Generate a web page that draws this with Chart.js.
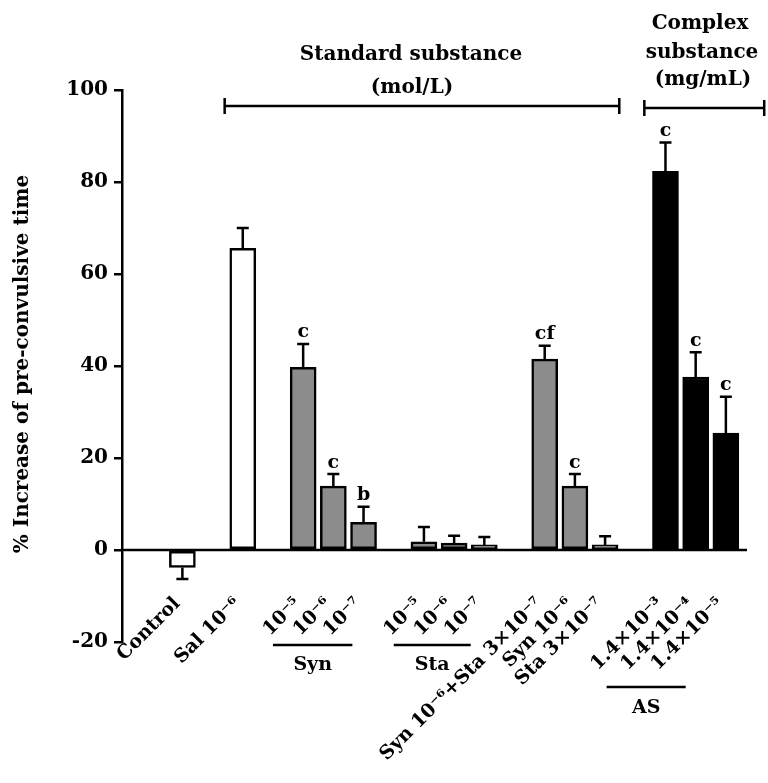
<!DOCTYPE html>
<html>
<head>
<meta charset="utf-8">
<script src="https://cdn.jsdelivr.net/npm/chart.js@4/dist/chart.umd.min.js"></script>
<style>
  html, body { margin: 0; padding: 0; background: #fff; }
  #c { display: block; }
</style>
</head>
<body>
<canvas id="c" width="768" height="783"></canvas>
<script>
// ---- Data ----
const categories = ['Control', 'Sal 10⁻⁶', '10⁻⁵', '10⁻⁶', '10⁻⁷', '10⁻⁵', '10⁻⁶', '10⁻⁷',
  'Syn 10⁻⁶+Sta 3×10⁻⁷', 'Syn 10⁻⁶', 'Sta 3×10⁻⁷', '1.4×10⁻³', '1.4×10⁻⁴', '1.4×10⁻⁵'];
const groups = ['Control', 'Sal', 'Syn', 'Syn', 'Syn', 'Sta', 'Sta', 'Sta', 'Mix', 'Mix', 'Mix', 'AS', 'AS', 'AS'];
const means = [-3.8, 65.6, 39.7, 13.9, 6.0, 1.8, 1.5, 1.1, 41.5, 13.9, 1.1, 82.3, 37.6, 25.4];
const sems  = [2.5, 4.4, 5.1, 2.6, 3.4, 3.2, 1.6, 1.7, 2.9, 2.6, 1.9, 6.3, 5.4, 7.9];
const letters = ['', '', 'c', 'c', 'b', '', '', '', 'cf', 'c', '', 'c', 'c', 'c'];
const yTicks = [-20, 0, 20, 40, 60, 80, 100];
const yTitle = '% Increase of pre-convulsive time';
const groupLabels = { Syn: 'Syn', Sta: 'Sta', AS: 'AS' };
const headerStd = ['Standard substance', '(mol/L)'];
const headerCpx = ['Complex', 'substance', '(mg/mL)'];

// colours per group
const groupFill = { Control: '#ffffff', Sal: '#ffffff', Syn: '#8c8c8c', Sta: '#8c8c8c', Mix: '#8c8c8c', AS: '#000000' };

// slot position: index plus one empty slot between groups
const slots = [];
let gapCount = 0;
groups.forEach((g, i) => {
  if (i > 0 && g !== groups[i - 1]) gapCount++;
  slots.push(i + gapCount);
});

const FONT = '"DejaVu Serif", serif';

const annotate = {
  id: 'annotate',
  afterDatasetsDraw(chart) {
    const ctx = chart.ctx;
    const xs = chart.scales.x, ys = chart.scales.y;
    const meta = chart.getDatasetMeta(0);
    ctx.save();
    // zero line
    ctx.strokeStyle = '#000';
    ctx.lineWidth = 2.5;
    ctx.beginPath();
    ctx.moveTo(chart.chartArea.left, ys.getPixelForValue(0));
    ctx.lineTo(chart.chartArea.right, ys.getPixelForValue(0));
    ctx.stroke();

    // error bars + letters
    meta.data.forEach((bar, i) => {
      const m = means[i], e = sems[i];
      const end = m >= 0 ? m + e : m - e;
      const y0 = ys.getPixelForValue(m);
      const y1 = ys.getPixelForValue(end);
      ctx.lineWidth = 2.5;
      ctx.beginPath();
      ctx.moveTo(bar.x, y0);
      ctx.lineTo(bar.x, y1);
      ctx.moveTo(bar.x - 6, y1);
      ctx.lineTo(bar.x + 6, y1);
      ctx.stroke();
      if (letters[i]) {
        ctx.font = 'bold 19px ' + FONT;
        ctx.fillStyle = '#000';
        ctx.textAlign = 'center';
        ctx.textBaseline = 'bottom';
        ctx.fillText(letters[i], bar.x, y1 - 2);
      }
    });

    // rotated category labels
    ctx.font = 'bold 19px ' + FONT;
    ctx.fillStyle = '#000';
    categories.forEach((lab, i) => {
      const cx = xs.getPixelForValue(slots[i]);
      ctx.save();
      ctx.translate(cx - 5, 601);
      ctx.rotate(-Math.PI / 4);
      ctx.textAlign = 'right';
      ctx.textBaseline = 'middle';
      ctx.fillText(lab, 0, 0);
      ctx.restore();
    });

    // group underlines and names
    const groupLine = (g, offL, offR, y, ty) => {
      const idx = groups.map((gg, i) => gg === g ? i : -1).filter(i => i >= 0);
      const xl = xs.getPixelForValue(slots[idx[0]] + offL);
      const xr = xs.getPixelForValue(slots[idx[idx.length - 1]] + offR);
      ctx.lineWidth = 2.5;
      ctx.beginPath();
      ctx.moveTo(xl, y);
      ctx.lineTo(xr, y);
      ctx.stroke();
      ctx.textAlign = 'center';
      ctx.textBaseline = 'middle';
      ctx.fillText(groupLabels[g], (xl + xr) / 2, ty);
    };
    groupLine('Syn', -1.0, -0.37, 645, 665);
    groupLine('Sta', -1.0, -0.45, 645, 665);
    groupLine('AS', -1.95, -1.33, 687, 708);

    // header brackets
    const bracket = (x1, x2, y) => {
      ctx.lineWidth = 2.5;
      ctx.beginPath();
      ctx.moveTo(x1, y); ctx.lineTo(x2, y);
      ctx.moveTo(x1, y - 8); ctx.lineTo(x1, y + 8);
      ctx.moveTo(x2, y - 8); ctx.lineTo(x2, y + 8);
      ctx.stroke();
    };
    const b1l = xs.getPixelForValue(slots[1] - 0.6);
    const b1r = xs.getPixelForValue(slots[10] + 0.47);
    const b2l = xs.getPixelForValue(slots[11] - 0.7);
    const b2r = xs.getPixelForValue(slots[13] + 1.27);
    bracket(b1l, b1r, 106);
    bracket(b2l, b2r, 108);
    ctx.font = 'bold 20px ' + FONT;
    ctx.textAlign = 'center';
    ctx.textBaseline = 'middle';
    ctx.fillText(headerStd[0], 411, 55);
    ctx.fillText(headerStd[1], 412, 88);
    ctx.fillText(headerCpx[0], 700, 24);
    ctx.fillText(headerCpx[1], 702, 53);
    ctx.fillText(headerCpx[2], 703, 80);

    // y title
    ctx.save();
    ctx.translate(23, 364);
    ctx.rotate(-Math.PI / 2);
    ctx.font = 'bold 20px ' + FONT;
    ctx.fillText(yTitle, 0, 0);
    ctx.restore();

    ctx.restore();
  }
};

new Chart(document.getElementById('c'), {
  type: 'bar',
  data: {
    datasets: [{
      data: means.map((v, i) => ({ x: slots[i], y: v })),
      backgroundColor: groups.map(g => groupFill[g]),
      borderColor: '#000',
      borderWidth: 2.5,
      borderSkipped: false,
      barThickness: 26
    }]
  },
  options: {
    responsive: false,
    animation: false,
    events: [],
    layout: { padding: { top: 90, right: 21, bottom: 141, left: 0 } },
    plugins: { legend: { display: false }, tooltip: { enabled: false } },
    scales: {
      x: { type: 'linear', min: -2, max: 18.7, offset: false, display: false },
      y: {
        min: -20, max: 100,
        afterBuildTicks: (s) => { s.ticks = yTicks.map(v => ({ value: v })); },
        afterFit: (s) => { s.width = 122; },
        ticks: { color: '#000', font: { family: FONT, weight: 'bold', size: 20 }, padding: 6 },
        grid: { drawOnChartArea: false, drawTicks: true, tickLength: 8, color: '#000', lineWidth: 2.5 },
        border: { color: '#000', width: 2.5 }
      }
    }
  },
  plugins: [annotate]
});
</script>
</body>
</html>
